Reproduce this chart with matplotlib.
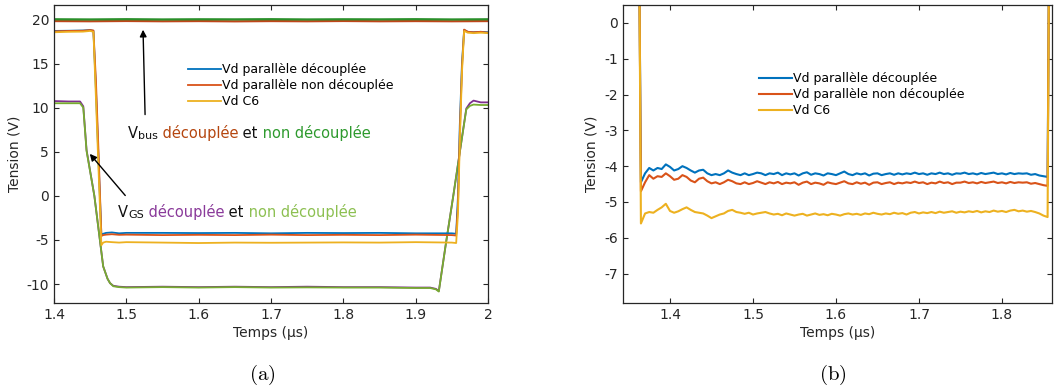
import numpy as np
import matplotlib
matplotlib.use("Agg")
import matplotlib.pyplot as plt

plt.rcParams['font.family'] = ['DejaVu Sans']
plt.rcParams['axes.unicode_minus'] = False
plt.rcParams['mathtext.fontset'] = 'cm'

# colours (MATLAB-like)
c_blue = '#0072BD'
c_red = '#D95319'
c_yel = '#EDB120'
c_pur = '#7E2F8E'
c_lgr = '#77AC30'
c_bus_d = '#C0461A'
c_bus_n = '#2A8F2A'

# ---- panel (a) data ----
t_bus = [1.40, 1.45, 1.50, 1.55, 1.60, 1.65, 1.70, 1.75, 1.80, 1.85, 1.90, 1.95, 2.00]
vbus_dec = [19.82, 19.80, 19.83, 19.80, 19.82, 19.79, 19.82, 19.80, 19.83, 19.80, 19.82, 19.80, 19.82]
vbus_non = [20.02, 20.00, 20.03, 20.00, 20.02, 20.01, 20.03, 20.00, 20.02, 20.01, 20.03, 20.00, 20.02]

t_vd = [1.400, 1.420, 1.440, 1.450, 1.4545, 1.458, 1.462, 1.4655, 1.468, 1.472, 1.480,
        1.490, 1.500, 1.550, 1.600, 1.650, 1.700, 1.750, 1.800, 1.850, 1.900, 1.950,
        1.956, 1.9585, 1.961, 1.964, 1.967, 1.972, 1.980, 1.990, 2.000]
vd_dec = [18.70, 18.72, 18.75, 18.80, 18.70, 12.0, 3.0, -4.40, -4.30, -4.20, -4.15,
          -4.25, -4.20, -4.20, -4.22, -4.20, -4.25, -4.20, -4.22, -4.20, -4.25, -4.25,
          -4.30, 0.0, 8.0, 15.0, 18.80, 18.60, 18.55, 18.60, 18.55]
vd_non = [18.65, 18.70, 18.72, 18.80, 18.75, 13.0, 4.0, -4.55, -4.45, -4.40, -4.35,
          -4.42, -4.40, -4.45, -4.42, -4.45, -4.40, -4.45, -4.42, -4.45, -4.40, -4.45,
          -4.50, -1.0, 7.0, 14.5, 18.85, 18.60, 18.55, 18.60, 18.50]
vd_c6 = [18.55, 18.60, 18.62, 18.70, 18.60, 11.0, 2.0, -5.60, -5.30, -5.20, -5.25,
         -5.30, -5.25, -5.30, -5.35, -5.30, -5.32, -5.30, -5.28, -5.30, -5.25, -5.30,
         -5.35, -2.0, 6.0, 14.0, 18.70, 18.50, 18.45, 18.50, 18.45]

t_gs = [1.400, 1.420, 1.436, 1.4405, 1.445, 1.4558, 1.468, 1.474, 1.4775, 1.482, 1.490,
        1.500, 1.550, 1.600, 1.650, 1.700, 1.750, 1.800, 1.850, 1.900, 1.920, 1.928,
        1.932, 1.942, 1.952, 1.962, 1.970, 1.975, 1.980, 1.990, 2.000]
vgs_dec = [10.75, 10.70, 10.70, 10.15, 5.20, 0.0, -8.0, -9.4, -9.9, -10.2, -10.3,
           -10.35, -10.30, -10.35, -10.30, -10.35, -10.30, -10.35, -10.35, -10.40, -10.40, -10.55,
           -10.80, -5.3, 0.0, 5.5, 9.9, 10.5, 10.8, 10.6, 10.6]
vgs_non = [10.50, 10.50, 10.50, 10.00, 5.10, 0.0, -8.0, -9.4, -9.9, -10.25, -10.35,
           -10.40, -10.35, -10.40, -10.35, -10.40, -10.38, -10.40, -10.40, -10.45, -10.45, -10.60,
           -10.85, -5.3, 0.0, 5.5, 9.8, 10.2, 10.35, 10.30, 10.30]

# ---- panel (b) data ----
t_grid = np.round(np.arange(1.365, 1.8551, 0.005), 3)
t_in = [1.3434, 1.3632]
t_out = [1.8565, 1.8614]
v_off = [1.0, 1.0]

vb_dec = [-4.45, -4.20, -4.05, -4.12, -4.05, -4.08, -3.95, -4.02, -4.12, -4.08,
          -4.00, -4.05, -4.12, -4.18, -4.12, -4.10, -4.20, -4.25, -4.22, -4.25,
          -4.20, -4.12, -4.18, -4.22, -4.25, -4.20, -4.25, -4.22, -4.18, -4.20,
          -4.25, -4.20, -4.22, -4.18, -4.25, -4.20, -4.23, -4.20, -4.26, -4.20,
          -4.17, -4.24, -4.20, -4.22, -4.26, -4.20, -4.22, -4.25, -4.20, -4.15,
          -4.22, -4.25, -4.20, -4.23, -4.20, -4.26, -4.21, -4.20, -4.25, -4.22,
          -4.20, -4.24, -4.20, -4.23, -4.20, -4.22, -4.18, -4.22, -4.20, -4.24,
          -4.20, -4.22, -4.18, -4.22, -4.20, -4.24, -4.20, -4.21, -4.18, -4.22,
          -4.20, -4.23, -4.19, -4.22, -4.20, -4.18, -4.22, -4.20, -4.23, -4.19,
          -4.22, -4.20, -4.21, -4.20, -4.24, -4.22, -4.26, -4.28, -4.30]
vb_non = [-4.70, -4.45, -4.25, -4.35, -4.28, -4.30, -4.20, -4.28, -4.38, -4.35,
          -4.25, -4.30, -4.40, -4.45, -4.35, -4.32, -4.42, -4.48, -4.45, -4.50,
          -4.45, -4.38, -4.42, -4.48, -4.50, -4.45, -4.50, -4.47, -4.42, -4.46,
          -4.50, -4.45, -4.48, -4.44, -4.50, -4.46, -4.48, -4.45, -4.52, -4.46,
          -4.43, -4.50, -4.46, -4.48, -4.52, -4.45, -4.48, -4.50, -4.46, -4.42,
          -4.48, -4.50, -4.45, -4.49, -4.46, -4.52, -4.46, -4.45, -4.50, -4.47,
          -4.45, -4.50, -4.46, -4.48, -4.45, -4.47, -4.43, -4.47, -4.45, -4.50,
          -4.46, -4.48, -4.43, -4.47, -4.45, -4.50, -4.46, -4.46, -4.43, -4.47,
          -4.45, -4.48, -4.44, -4.47, -4.45, -4.43, -4.47, -4.45, -4.48, -4.44,
          -4.47, -4.45, -4.46, -4.45, -4.49, -4.47, -4.50, -4.53, -4.55]
vb_c6 = [-5.60, -5.32, -5.28, -5.30, -5.22, -5.15, -5.05, -5.25, -5.30, -5.26,
         -5.20, -5.15, -5.22, -5.28, -5.30, -5.32, -5.38, -5.45, -5.40, -5.35,
         -5.32, -5.25, -5.22, -5.28, -5.30, -5.33, -5.30, -5.35, -5.32, -5.30,
         -5.28, -5.32, -5.35, -5.33, -5.37, -5.32, -5.35, -5.38, -5.35, -5.33,
         -5.38, -5.35, -5.32, -5.36, -5.34, -5.37, -5.33, -5.35, -5.38, -5.34,
         -5.32, -5.35, -5.33, -5.36, -5.32, -5.34, -5.30, -5.33, -5.35, -5.32,
         -5.34, -5.30, -5.33, -5.31, -5.35, -5.30, -5.28, -5.32, -5.29, -5.31,
         -5.28, -5.31, -5.27, -5.30, -5.28, -5.26, -5.30, -5.27, -5.29, -5.26,
         -5.28, -5.25, -5.29, -5.26, -5.28, -5.24, -5.27, -5.25, -5.28, -5.24,
         -5.22, -5.26, -5.24, -5.27, -5.25, -5.28, -5.32, -5.38, -5.42]

labels = ['Vd parallèle découplée', 'Vd parallèle non découplée', 'Vd C6']

fig = plt.figure(figsize=(10.55, 3.9), dpi=100)
ax1 = fig.add_axes([54/1055, 1-303/390, 434/1055, 298/390])
ax2 = fig.add_axes([623/1055, 1-303/390, 429/1055, 298/390])

for ax in (ax1, ax2):
    ax.tick_params(direction='in', length=3.5, width=0.8, labelsize=10,
                   top=True, right=True, colors='#262626')
    for s in ax.spines.values():
        s.set_color('#262626')
        s.set_linewidth(0.9)
    ax.set_xlabel('Temps (µs)', fontsize=10, color='#262626', labelpad=3)
    ax.set_ylabel('Tension (V)', fontsize=10, color='#262626', labelpad=4)

# panel (a)
ax1.plot(t_gs, vgs_dec, color=c_pur, lw=1.3)
ax1.plot(t_gs, vgs_non, color=c_lgr, lw=1.3)
l1, = ax1.plot(t_vd, vd_dec, color=c_blue, lw=1.3)
l2, = ax1.plot(t_vd, vd_non, color=c_red, lw=1.3)
l3, = ax1.plot(t_vd, vd_c6, color=c_yel, lw=1.3)
ax1.plot(t_bus, vbus_dec, color=c_bus_d, lw=1.6)
ax1.plot(t_bus, vbus_non, color=c_bus_n, lw=1.6)
ax1.set_xlim(1.4, 2.0)
ax1.set_ylim(-12.15, 21.64)
ax1.set_xticks([1.4, 1.5, 1.6, 1.7, 1.8, 1.9, 2.0])
ax1.set_xticklabels(['1.4', '1.5', '1.6', '1.7', '1.8', '1.9', '2'])
ax1.set_yticks([-10, -5, 0, 5, 10, 15, 20])
ax1.legend([l1, l2, l3], labels, loc='upper left', frameon=False, fontsize=9,
           handlelength=2.6, handletextpad=0.15, labelspacing=0.25, borderpad=0,
           borderaxespad=0, bbox_to_anchor=(188/1055, 1-63/390),
           bbox_transform=fig.transFigure)


def rainbow(ax, x, y, parts):
    t = ax.text(x, y, parts[0][0], color=parts[0][1], fontsize=parts[0][2],
                va='baseline', ha='left')
    for s, c, fs in parts[1:]:
        t = ax.annotate(s, xy=(1, 0), xycoords=t, va='bottom', ha='left',
                        color=c, fontsize=fs)


ax1.annotate('', xy=(1.523, 19.15), xytext=(1.526, 8.9),
             arrowprops=dict(arrowstyle='-|>', color='black', lw=1, mutation_scale=10))
ax1.annotate('', xy=(1.447, 5.0), xytext=(1.501, -0.2),
             arrowprops=dict(arrowstyle='-|>', color='black', lw=1, mutation_scale=10))
rainbow(ax1, 1.5024, 6.57, [('V', '#111111', 10.5), ('bus', '#111111', 8),
                            (' découplée', '#B5460F', 10.5), (' et', '#111111', 10.5),
                            (' non découplée', '#2E9A2E', 10.5)])
rainbow(ax1, 1.4885, -2.38, [('V', '#111111', 10.5), ('GS', '#111111', 8),
                             (' découplée', '#8A3A9A', 10.5), (' et', '#111111', 10.5),
                             (' non découplée', '#8DC052', 10.5)])

# panel (b)
tb = list(t_in) + list(t_grid) + list(t_out)
m1, = ax2.plot(tb, v_off + vb_dec + v_off, color=c_blue, lw=1.5)
m2, = ax2.plot(tb, v_off + vb_non + v_off, color=c_red, lw=1.5)
m3, = ax2.plot(tb, v_off + vb_c6 + v_off, color=c_yel, lw=1.5)
ax2.set_xlim(1.3434, 1.8603)
ax2.set_ylim(-7.82, 0.5)
ax2.set_xticks([1.4, 1.5, 1.6, 1.7, 1.8])
ax2.set_yticks([-7, -6, -5, -4, -3, -2, -1, 0])
ax2.legend([m1, m2, m3], labels, loc='upper left', frameon=False, fontsize=9,
           handlelength=2.6, handletextpad=0.15, labelspacing=0.25, borderpad=0,
           borderaxespad=0, bbox_to_anchor=(759/1055, 1-72/390),
           bbox_transform=fig.transFigure)

fig.text(262/1055, 1-375/390, r'$\mathrm{(a)}$', fontsize=15, ha='center', va='center')
fig.text(833/1055, 1-375/390, r'$\mathrm{(b)}$', fontsize=15, ha='center', va='center')

fig.savefig('out.png', dpi=100)
